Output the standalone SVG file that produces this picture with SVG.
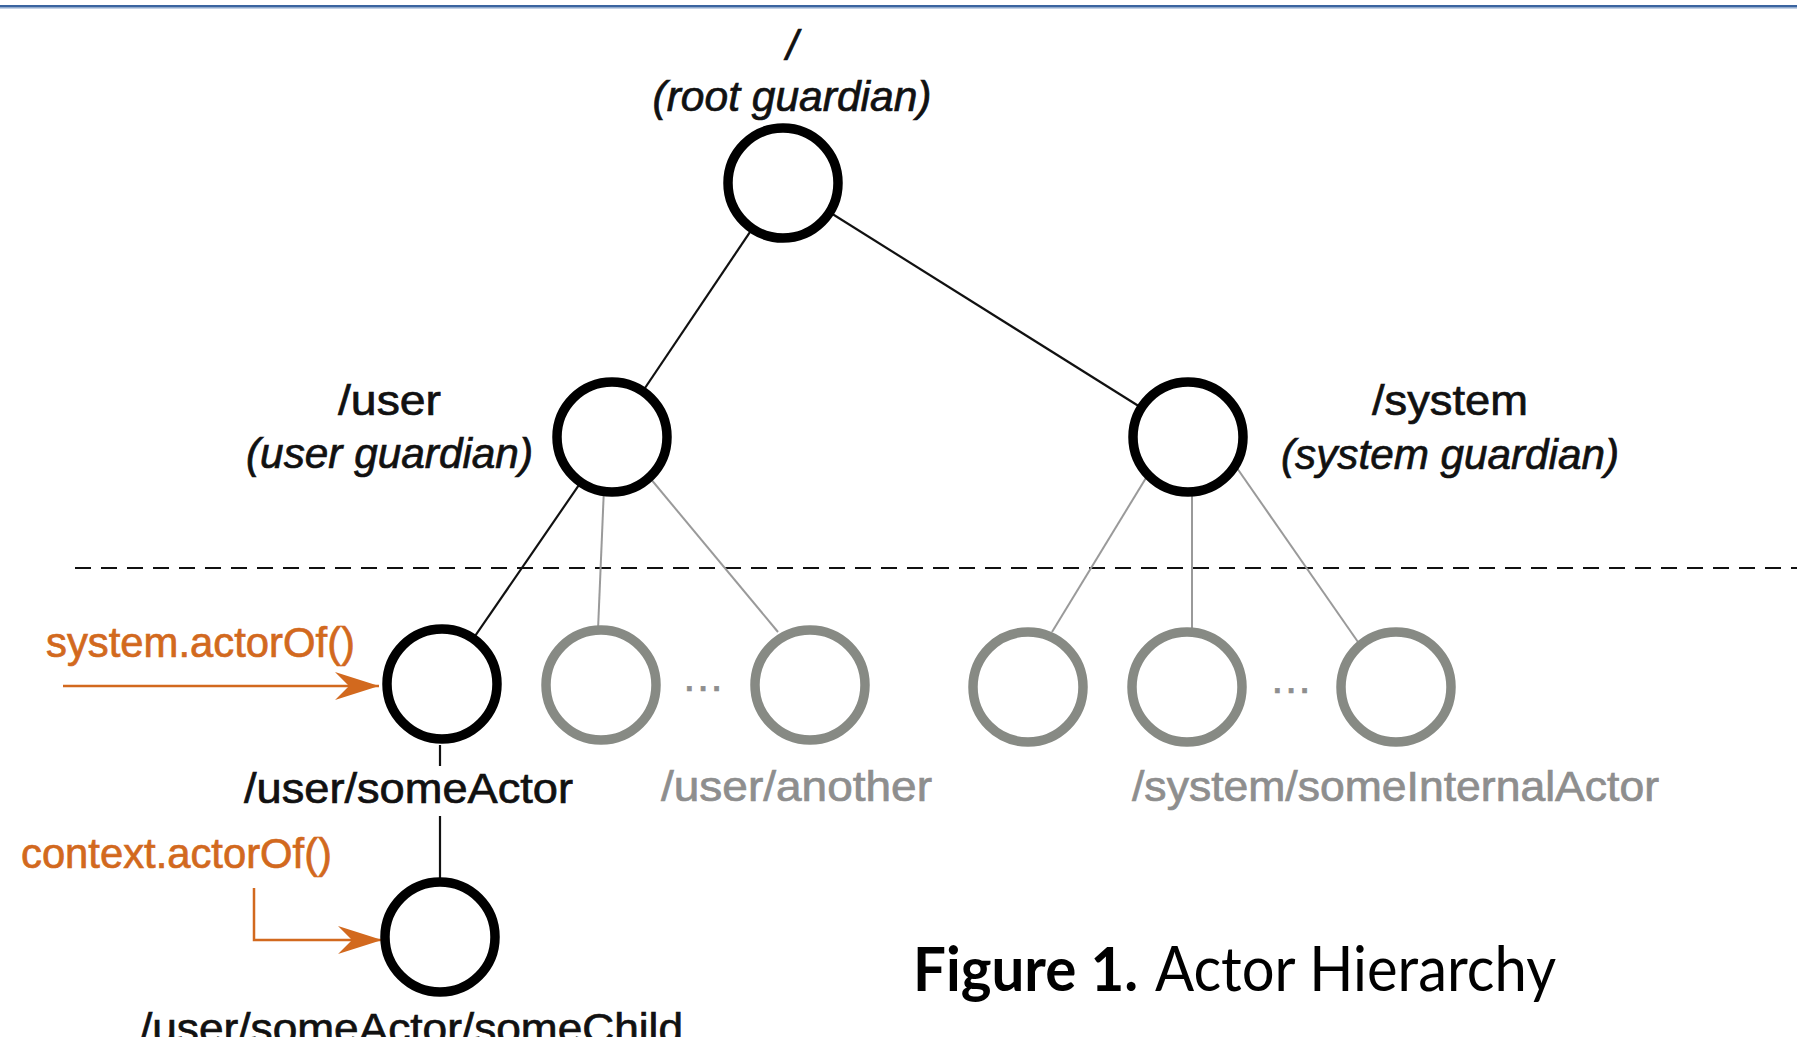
<svg xmlns="http://www.w3.org/2000/svg" width="1797" height="1037" viewBox="0 0 1797 1037">
<defs>
<style>
.lbl{font-family:"Liberation Sans",Arial,sans-serif;font-size:42px;fill:#111;stroke:#111;stroke-width:0.7}
.it{font-style:italic}
.gl{fill:#8e8e8e;stroke:#8e8e8e}
.or{fill:#d2691e;stroke:#d2691e}
.nb{fill:#fff;stroke:#000;stroke-width:9.5}
.ng{fill:#fff;stroke:#878a84;stroke-width:9.5}
.cb{stroke:#111;stroke-width:2.2;fill:none}
.cg{stroke:#9a9a9a;stroke-width:2;fill:none}
.ca{stroke:#d2691e;stroke-width:2.5;fill:none}
</style>
<marker id="ah" markerUnits="userSpaceOnUse" markerWidth="48" markerHeight="30" refX="44" refY="14" orient="auto">
<path d="M44,14 L0,0 L14,14 L0,28 Z" fill="#d2691e"/>
</marker>
</defs>
<rect x="0" y="0" width="1797" height="1037" fill="#fff"/>
<rect x="0" y="5" width="1797" height="2.5" fill="#3a64a0"/>
<rect x="0" y="7.5" width="1797" height="1" fill="#8aa6cc"/>
<line x1="75" y1="568" x2="1797" y2="568" stroke="#111" stroke-width="2" stroke-dasharray="16 10"/>
<g id="connectors">
<line class="cb" x1="783" y1="183" x2="612" y2="437"/>
<line class="cb" x1="783" y1="183" x2="1188" y2="437"/>
<line class="cb" x1="612" y1="437" x2="442" y2="684"/>
<line class="cg" x1="606" y1="440" x2="598" y2="630"/>
<line class="cg" x1="640" y1="466" x2="778" y2="632"/>
<line class="cg" x1="1160" y1="455" x2="1052" y2="632"/>
<line class="cg" x1="1192" y1="480" x2="1192" y2="632"/>
<line class="cg" x1="1230" y1="458" x2="1358" y2="642"/>
<line class="cb" x1="440" y1="745" x2="440" y2="766"/>
<line class="cb" x1="440" y1="816" x2="440" y2="880"/>
<line class="ca" x1="63" y1="686" x2="379" y2="686" marker-end="url(#ah)"/>
<polyline class="ca" points="254,888 254,940 382,940" marker-end="url(#ah)"/>
</g>
<g id="root">
<circle class="nb" cx="783" cy="183" r="55"/>
<text class="lbl it" x="792" y="60" text-anchor="middle">/</text>
<text class="lbl it" x="792" y="111" text-anchor="middle" textLength="279" lengthAdjust="spacingAndGlyphs">(root guardian)</text>
</g>
<g id="user">
<circle class="nb" cx="612" cy="437" r="55"/>
<text class="lbl" x="338" y="415" textLength="103" lengthAdjust="spacingAndGlyphs">/user</text>
<text class="lbl it" x="246" y="468" textLength="287" lengthAdjust="spacingAndGlyphs">(user guardian)</text>
</g>
<g id="system">
<circle class="nb" cx="1188" cy="437" r="55"/>
<text class="lbl" x="1372" y="415" textLength="156" lengthAdjust="spacingAndGlyphs">/system</text>
<text class="lbl it" x="1281" y="469" textLength="338" lengthAdjust="spacingAndGlyphs">(system guardian)</text>
</g>
<g id="someActor">
<circle class="nb" cx="442" cy="684" r="55"/>
<text class="lbl" x="244" y="803" textLength="329" lengthAdjust="spacingAndGlyphs">/user/someActor</text>
</g>
<g id="userChild1"><circle class="ng" cx="601" cy="685" r="55"/></g>
<g id="userDots"><text class="lbl gl" x="704" y="691" text-anchor="middle" font-size="22" letter-spacing="2">...</text></g>
<g id="userAnother">
<circle class="ng" cx="810" cy="685" r="55"/>
<text class="lbl gl" x="661" y="801" textLength="271" lengthAdjust="spacingAndGlyphs">/user/another</text>
</g>
<g id="sysChildA"><circle class="ng" cx="1028" cy="687" r="55"/></g>
<g id="sysChildB"><circle class="ng" cx="1187" cy="687" r="55"/></g>
<g id="sysDots"><text class="lbl gl" x="1292" y="693" text-anchor="middle" font-size="22" letter-spacing="2">...</text></g>
<g id="sysChildC">
<circle class="ng" cx="1396" cy="687" r="55"/>
<text class="lbl gl" x="1132" y="801" textLength="527" lengthAdjust="spacingAndGlyphs">/system/someInternalActor</text>
</g>
<g id="someChild">
<circle class="nb" cx="440" cy="937" r="55"/>
<text class="lbl" x="140" y="1043" textLength="543" lengthAdjust="spacingAndGlyphs">/user/someActor/someChild</text>
</g>
<g id="systemActorOf"><text class="lbl or" x="46" y="657" textLength="309" lengthAdjust="spacingAndGlyphs">system.actorOf()</text></g>
<g id="contextActorOf"><text class="lbl or" x="21" y="868" textLength="311" lengthAdjust="spacingAndGlyphs">context.actorOf()</text></g>
<g id="caption">
<text x="913" y="991" font-family="Lato,'Liberation Sans',sans-serif" font-size="62" fill="#000"><tspan font-weight="bold" textLength="225" lengthAdjust="spacingAndGlyphs">Figure 1.</tspan><tspan x="1155" textLength="401" lengthAdjust="spacingAndGlyphs">Actor Hierarchy</tspan></text>
</g>
</svg>
